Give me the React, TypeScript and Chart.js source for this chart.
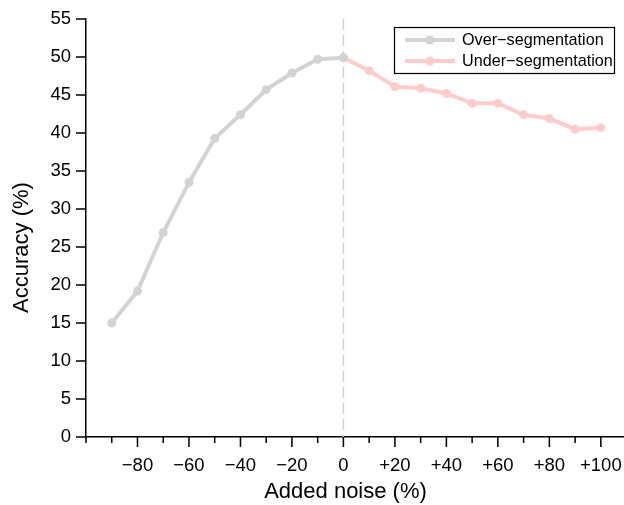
import React, { useEffect, useRef } from "react";
import { Chart, registerables } from "chart.js";

Chart.register(...registerables);

const overX = [-90, -80, -70, -60, -50, -40, -30, -20, -10, 0];
const overY = [15.0, 19.2, 26.9, 33.5, 39.3, 42.4, 45.7, 47.9, 49.7, 49.9];
const underX = [0, 10, 20, 30, 40, 50, 60, 70, 80, 90, 100];
const underY = [49.9, 48.2, 46.1, 45.9, 45.2, 43.9, 43.9, 42.4, 41.9, 40.5, 40.7];
const xMajorTicks = [-100, -80, -60, -40, -20, 0, 20, 40, 60, 80, 100];
const xMinorTicks = [-90, -70, -50, -30, -10, 10, 30, 50, 70, 90];
const yTicks = [0, 5, 10, 15, 20, 25, 30, 35, 40, 45, 50, 55];
const seriesNames = ["Over\u2212segmentation", "Under\u2212segmentation"];
const xTitle = "Added noise (%)";
const yTitle = "Accuracy (%)";

const FONT = '"Liberation Sans", Arial, Helvetica, sans-serif';
const GRAY = "rgb(211,211,211)";
const PINK = "rgb(255,204,204)";

function fmtX(v: number): string {
  if (v === -100) return "";
  if (v > 0) return "+" + v;
  if (v < 0) return "\u2212" + Math.abs(v);
  return "0";
}

const overlayPlugin = {
  id: "overlay",
  beforeDatasetsDraw(chart: any) {
    const { ctx, chartArea, scales } = chart;
    const x0 = scales.x.getPixelForValue(0);
    ctx.save();
    ctx.strokeStyle = GRAY;
    ctx.lineWidth = 1.5;
    ctx.setLineDash([11, 5]);
    ctx.beginPath();
    ctx.moveTo(x0, chartArea.top);
    ctx.lineTo(x0, chartArea.bottom);
    ctx.stroke();
    ctx.restore();
  },
  afterDraw(chart: any) {
    const { ctx, chartArea, scales } = chart;
    const xs = scales.x;
    const ys = scales.y;
    ctx.save();
    ctx.strokeStyle = "#000";
    ctx.lineWidth = 1.5;
    ctx.beginPath();
    xMajorTicks.forEach((v) => {
      const px = xs.getPixelForValue(v);
      const len = v === -100 ? 6 : 10;
      ctx.moveTo(px, chartArea.bottom);
      ctx.lineTo(px, chartArea.bottom + len);
    });
    xMinorTicks.forEach((v) => {
      const px = xs.getPixelForValue(v);
      ctx.moveTo(px, chartArea.bottom);
      ctx.lineTo(px, chartArea.bottom + 6);
    });
    yTicks.forEach((v) => {
      const py = ys.getPixelForValue(v);
      ctx.moveTo(chartArea.left - 10, py);
      ctx.lineTo(chartArea.left, py);
    });
    ctx.stroke();

    // x tick labels
    ctx.fillStyle = "#000";
    ctx.font = "18.5px " + FONT;
    ctx.textAlign = "center";
    ctx.textBaseline = "middle";
    xMajorTicks.forEach((v) => {
      ctx.fillText(fmtX(v), xs.getPixelForValue(v), chartArea.bottom + 29);
    });

    // axis titles
    ctx.font = "22px " + FONT;
    ctx.fillText(xTitle, 345.5, 492);
    ctx.save();
    ctx.translate(21.5, 247.5);
    ctx.rotate(-Math.PI / 2);
    ctx.fillText(yTitle, 0, 0);
    ctx.restore();

    // legend
    const bx = 394, by = 27, bw = 220, bh = 46;
    ctx.fillStyle = "#fff";
    ctx.fillRect(bx, by, bw, bh);
    ctx.strokeStyle = "#000";
    ctx.lineWidth = 1.2;
    ctx.strokeRect(bx + 0.5, by + 0.5, bw, bh);
    const colors = [GRAY, PINK];
    const rows = [40, 61];
    ctx.font = "16.2px " + FONT;
    ctx.textAlign = "left";
    ctx.textBaseline = "middle";
    rows.forEach((ry, i) => {
      ctx.strokeStyle = colors[i];
      ctx.lineWidth = 4;
      ctx.beginPath();
      ctx.moveTo(405, ry);
      ctx.lineTo(455, ry);
      ctx.stroke();
      ctx.fillStyle = colors[i];
      ctx.beginPath();
      ctx.arc(430, ry, 4.5, 0, Math.PI * 2);
      ctx.fill();
      ctx.fillStyle = "#000";
      ctx.fillText(seriesNames[i], 462, ry + 0.5);
    });
    ctx.restore();
  },
};

export default function App() {
  const ref = useRef<HTMLCanvasElement | null>(null);
  useEffect(() => {
    if (!ref.current) return;
    const chart = new Chart(ref.current, {
      type: "line",
      data: {
        datasets: [
          {
            label: seriesNames[0],
            data: overX.map((x, i) => ({ x, y: overY[i] })),
            borderColor: GRAY,
            backgroundColor: GRAY,
            borderWidth: 4,
            pointRadius: 4.5,
            pointBorderWidth: 0,
            pointHoverRadius: 4.5,
            tension: 0,
          },
          {
            label: seriesNames[1],
            data: underX.map((x, i) => ({ x, y: underY[i] })),
            borderColor: PINK,
            backgroundColor: PINK,
            borderWidth: 4,
            pointRadius: 4.5,
            pointBorderWidth: 0,
            pointHoverRadius: 4.5,
            tension: 0,
          },
        ],
      },
      options: {
        animation: false,
        responsive: false,
        devicePixelRatio: 1,
        layout: { autoPadding: false, padding: { top: 19, right: 0, left: 0, bottom: 0 } },
        plugins: {
          legend: { display: false },
          tooltip: { enabled: false },
        },
        events: [],
        scales: {
          x: {
            type: "linear",
            min: -100,
            max: 109,
            afterBuildTicks: (scale: any) => {
              scale.ticks = xMajorTicks.map((v) => ({ value: v }));
            },
            afterFit: (scale: any) => {
              scale.height = 68;
            },
            grid: {
              display: false,
              drawOnChartArea: false,
              drawTicks: false,
            },
            border: { display: true, color: "#000", width: 1.5 },
            ticks: { display: false },
          },
          y: {
            type: "linear",
            min: 0,
            max: 55,
            afterBuildTicks: (scale: any) => {
              scale.ticks = yTicks.map((v) => ({ value: v }));
            },
            afterFit: (scale: any) => {
              scale.width = 86;
            },
            grid: {
              drawOnChartArea: false,
              drawTicks: true,
              tickLength: 10,
              tickColor: "rgba(0,0,0,0)",
            },
            border: { display: true, color: "#000", width: 1.5 },
            ticks: {
              autoSkip: false,
              padding: 5,
              color: "#000",
              font: { family: FONT, size: 18.5 },
              callback: (v: any) => String(v),
            },
          },
        },
      },
      plugins: [overlayPlugin],
    });
    return () => chart.destroy();
  }, []);
  return (
    <div style={{ position: "absolute", left: 0, top: 0, width: 624, height: 505, background: "#fff" }}>
      <canvas ref={ref} width={624} height={505} style={{ width: 624, height: 505, display: "block" }} />
    </div>
  );
}
